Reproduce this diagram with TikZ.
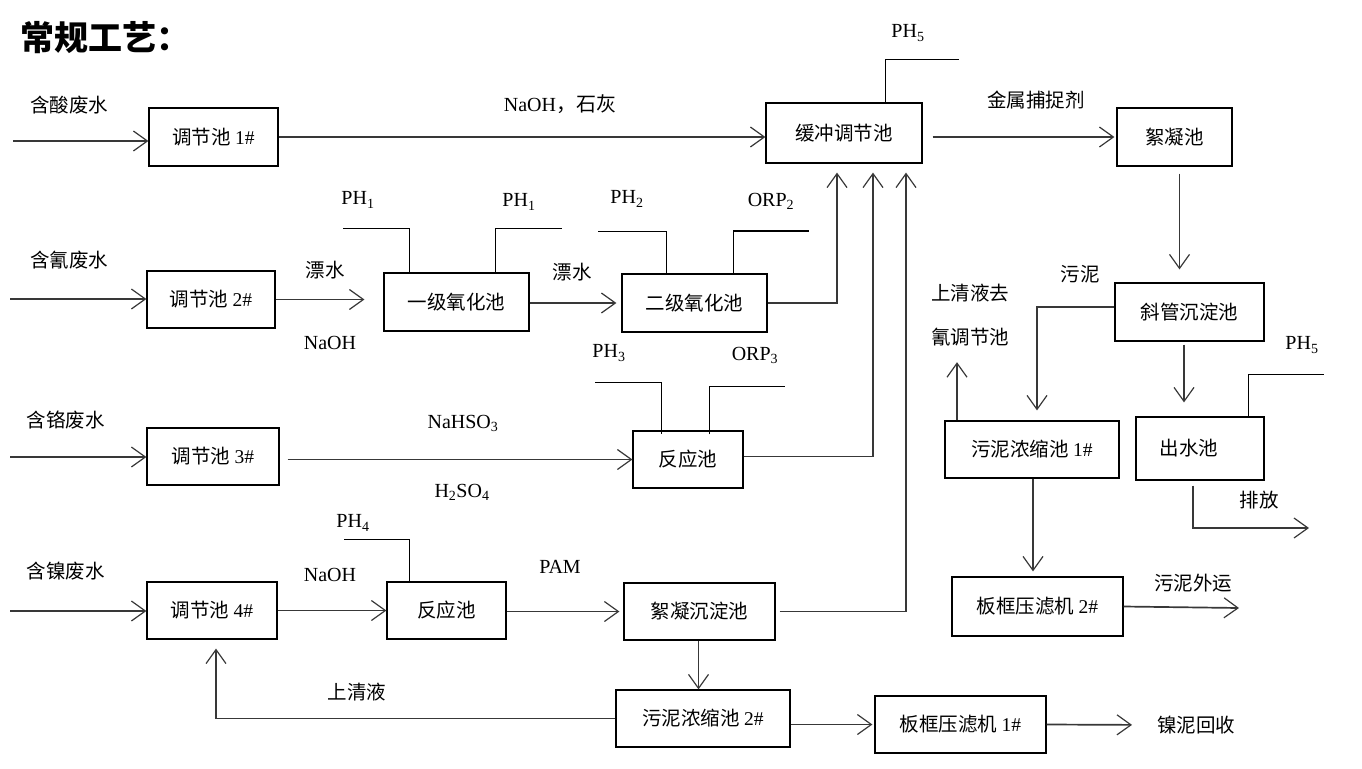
\documentclass[tikz,border=0pt]{standalone}
\usepackage{fontspec}
\setmainfont{Liberation Serif}
\newfontfamily\cjk{Noto Sans CJK SC}
\usetikzlibrary{arrows.meta}
\newcommand{\latn}[1]{{\rmfamily #1}}
\tikzset{
  box/.style={draw, line width=1.2pt, minimum height=57pt, inner sep=0pt, font=\cjk\fontsize{19.5}{23}\selectfont},
  flow/.style={draw=black!78, line width=1.7pt, -{Straight Barb[length=14pt,width=20pt,line width=1.2pt]}},
  pipe/.style={draw=black!78, line width=1.7pt},
  sensor/.style={draw, line width=1pt},
  lbl/.style={font=\cjk\fontsize{19.5}{23}\selectfont, inner sep=0pt},
  chem/.style={font=\fontsize{20}{24}\selectfont, inner sep=0pt}
}
\begin{document}
\begin{tikzpicture}[x=1pt, y=-1pt]
\useasboundingbox (0,0) rectangle (1362,768);
\node[anchor=west, inner sep=0pt, font=\cjk\bfseries\fontsize{34}{40}\selectfont] (title) at (20,38) {常规工艺：};

% boxes
\node[box, minimum width=129pt, minimum height=58pt] (t1) at (213.5,137) {调节池 \latn{1\#}};
\node[box, minimum width=156pt, minimum height=60pt] (hc) at (844,133) {缓冲调节池};
\node[box, minimum width=115pt, minimum height=58pt] (xn) at (1174.5,137) {絮凝池};
\node[box, minimum width=128pt] (t2) at (211,299.5) {调节池 \latn{2\#}};
\node[box, minimum width=145pt, minimum height=58pt] (ox1) at (456.5,302) {一级氧化池};
\node[box, minimum width=145pt, minimum height=58pt] (ox2) at (694.5,303) {二级氧化池};
\node[box, minimum width=132pt] (t3) at (213,456.5) {调节池 \latn{3\#}};
\node[box, minimum width=110pt] (re3) at (688,459.5) {反应池};
\node[box, minimum width=130pt] (t4) at (212,610.5) {调节池 \latn{4\#}};
\node[box, minimum width=119pt] (re4) at (446.5,610.5) {反应池};
\node[box, minimum width=151pt] (fd) at (699.5,611.5) {絮凝沉淀池};
\node[box, minimum width=174pt] (sn2) at (703,718.5) {污泥浓缩池 \latn{2\#}};
\node[box, minimum width=171pt] (bk1) at (960.5,724.5) {板框压滤机 \latn{1\#}};
\node[box, minimum width=149pt, minimum height=58pt] (xg) at (1189.5,312) {斜管沉淀池};
\node[box, minimum width=174pt] (sn1) at (1032,449.5) {污泥浓缩池 \latn{1\#}};
\node[box, minimum width=128pt, minimum height=63pt] (cs) at (1200,448.5) {出水池\hspace*{22pt}};
\node[box, minimum width=171pt, minimum height=59pt] (bk2) at (1037.5,606.5) {板框压滤机 \latn{2\#}};

% labels
\node[lbl] (w1) at (69,105) {含酸废水};
\node[lbl] (w2) at (69,260) {含氰废水};
\node[lbl] (w3) at (66,420) {含铬废水};
\node[lbl] (w4) at (66,571) {含镍废水};
\node[chem] (naoh1) at (560,104) {NaOH{\cjk ，石灰}};
\node[lbl] (jsb) at (1036,100) {金属捕捉剂};
\node[lbl] (pb1) at (325,270) {漂水};
\node[chem] (naoh2) at (330,343) {NaOH};
\node[lbl] (pb2) at (572,272) {漂水};
\node[chem] (nahso) at (463,423) {NaHSO\textsubscript{3}};
\node[chem] (hso) at (462,492) {H\textsubscript{2}SO\textsubscript{4}};
\node[chem] (naoh3) at (330,575) {NaOH};
\node[chem] (pam) at (560,567) {PAM};
\node[lbl] (sqy) at (357,692) {上清液};
\node[lbl, anchor=west] (nhs) at (1157,725) {镍泥回收};
\node[lbl] (wn) at (1080,274) {污泥};
\node[lbl, align=center, font=\cjk\fontsize{19.5}{44}\selectfont] (qing) at (970,315) {上清液去\\氰调节池};
\node[lbl] (pf) at (1259,500) {排放};
\node[lbl] (wny) at (1193,583) {污泥外运};

\node[chem] (lp5) at (908,33) {PH\textsubscript{5}};
\node[chem] (lp1a) at (358,200) {PH\textsubscript{1}};
\node[chem] (lp1b) at (519,202) {PH\textsubscript{1}};
\node[chem] (lp2) at (627,199) {PH\textsubscript{2}};
\node[chem] (lorp2) at (771,201) {ORP\textsubscript{2}};
\node[chem] (lp3) at (609,353) {PH\textsubscript{3}};
\node[chem] (lorp3) at (755,355) {ORP\textsubscript{3}};
\node[chem] (lp4) at (353,523) {PH\textsubscript{4}};
\node[chem] (lp5b) at (1302,345) {PH\textsubscript{5}};

% inlets and loose ends
\coordinate (in1) at (13,141);
\coordinate (in2) at (10,299);
\coordinate (in3) at (10,457);
\coordinate (in4) at (10,611);
\coordinate (out1) at (1309,528);
\coordinate (out2) at (1239,608);

% sensor probes
\coordinate (s5a) at (885,60);   \coordinate (s5b) at (959,60);
\coordinate (s1a) at (343,228);  \coordinate (s1b) at (409,228);
\coordinate (s1c) at (495,228);  \coordinate (s1d) at (562,228);
\coordinate (s2a) at (598,231);  \coordinate (s2b) at (666,231);
\coordinate (s2c) at (733,231);  \coordinate (s2d) at (809,231);
\coordinate (s3a) at (595,382);  \coordinate (s3b) at (661,382);
\coordinate (s3c) at (709,386);  \coordinate (s3d) at (785,386);
\coordinate (s4a) at (344,539);  \coordinate (s4b) at (409,539);
\coordinate (s6a) at (1248,374); \coordinate (s6b) at (1324,374);
\draw[sensor] (hc.north -| s5a) -- (s5a) -- (s5b);
\draw[sensor] (s1a) -- (s1b) -- (s1b |- ox1.north);
\draw[sensor] (ox1.north -| s1c) -- (s1c) -- (s1d);
\draw[sensor] (s2a) -- (s2b) -- (s2b |- ox2.north);
\draw[sensor] (ox2.north -| s2c) -- (s2c);
\draw[sensor, line width=2.4pt] (s2c) -- (s2d);
\draw[sensor] (s3a) -- (s3b) -- ([yshift=-4pt]s3b |- re3.north);
\draw[sensor] ([yshift=-4pt]re3.north -| s3c) -- (s3c) -- (s3d);
\draw[sensor] (s4a) -- (s4b) -- (s4b |- re4.north);
\draw[sensor] (cs.north -| s6a) -- (s6a) -- (s6b);

% flows
\draw[flow] (in1) -- (in1 -| t1.west);
\draw[flow] (t1.east) -- (hc.west |- t1.east);
\draw[flow, shorten <=10pt, shorten >=2pt] (hc.east |- xn.west) -- (xn.west);
\draw[flow, shorten <=7pt, shorten >=13pt] ([xshift=5pt]xn.south) -- ([xshift=5pt]xn.south |- xg.north);
\draw[flow] (in2) -- (in2 -| t2.west);
\draw[flow, shorten >=19pt] (t2.east) -- (ox1.west |- t2.east);
\draw[flow, shorten >=5pt] (ox1.east |- ox2.west) -- (ox2.west);
\draw[flow, shorten >=9pt] (ox2.east) -| ([xshift=-7pt]hc.south);
\draw[flow] (in3) -- (in3 -| t3.west);
\draw[flow, shorten <=8pt] (t3.east |- re3.west) -- (re3.west);
\draw[flow, shorten >=9pt] ([yshift=3pt]re3.east) -| ([xshift=29pt]hc.south);
\draw[flow] (in4) -- (in4 -| t4.west);
\draw[flow] (t4.east) -- (re4.west);
\draw[flow, shorten >=4pt] (re4.east |- fd.west) -- (fd.west);
\draw[flow, shorten <=4pt, shorten >=9pt] (fd.east) -| ([xshift=62pt]hc.south);
\draw[flow] ([xshift=-1pt]fd.south) -- ([xshift=-1pt]fd.south |- sn2.north);
\draw[flow, shorten >=9pt] (sn2.west) -| ([xshift=4pt]t4.south);
\draw[flow, shorten >=2pt] (sn2.east |- bk1.west) -- (bk1.west);
\draw[flow, shorten >=25pt] (bk1.east) -- (nhs.west);
\draw[flow, shorten >=10pt] ([yshift=5pt]xg.west) -| ([xshift=5pt]sn1.north);
\draw[flow, shorten >=16pt] ([xshift=-75pt]sn1.north) -- ([xshift=-75pt]sn1.north |- qing.south);
\draw[flow, shorten <=3pt, shorten >=14pt] ([xshift=-5.5pt]xg.south) -- ([xshift=-5.5pt]xg.south |- cs.north);
\draw[flow, shorten <=5pt] ([xshift=-7pt]cs.south) |- (out1);
\draw[flow, shorten >=5pt] ([xshift=1pt]sn1.south) -- ([xshift=1pt]sn1.south |- bk2.north);
\draw[flow] (bk2.east) -- (out2);
\end{tikzpicture}
\end{document}
